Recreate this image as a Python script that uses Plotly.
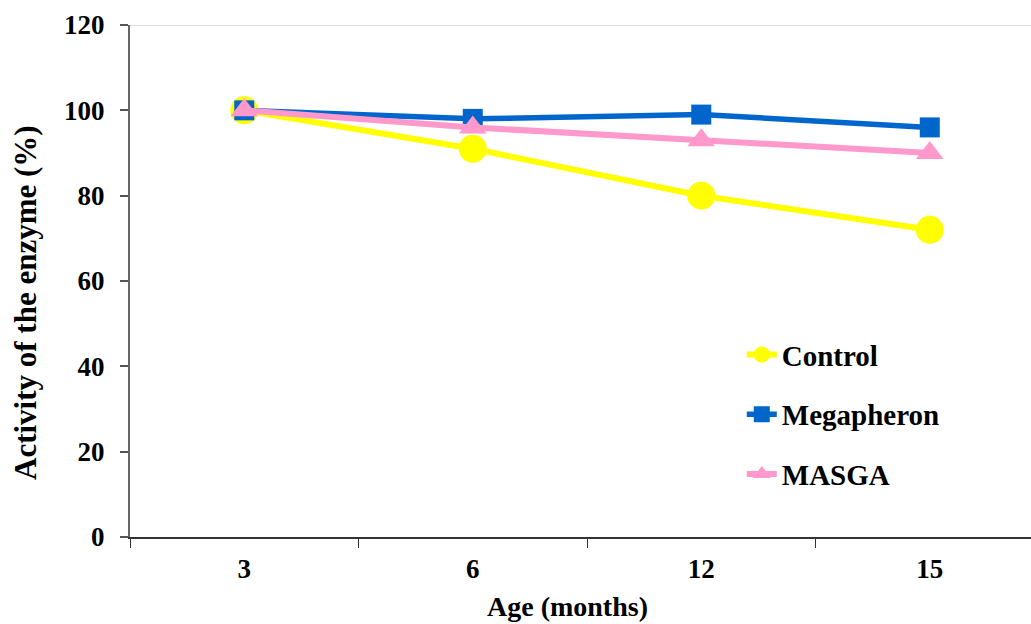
import plotly.graph_objects as go

ages = ["3", "6", "12", "15"]
control = [100, 91, 80, 72]
megapheron = [100, 98, 99, 96]
masga = [100, 96, 93, 90]
y_ticks = [0, 20, 40, 60, 80, 100, 120]

FONT = "Liberation Serif, Times New Roman, serif"

fig = go.Figure()
fig.add_trace(go.Scatter(x=ages, y=control, name="Control", mode="lines+markers",
                         line=dict(color="#FFFF00", width=6),
                         marker=dict(symbol="circle", size=28, color="#FFFF00"),
                         legendgroup="a"))
fig.add_trace(go.Scatter(x=ages, y=megapheron, name="Megapheron", mode="lines+markers",
                         line=dict(color="#0066CC", width=5.5),
                         marker=dict(symbol="square", size=20, color="#0066CC"),
                         legendgroup="b"))
fig.add_trace(go.Scatter(x=ages, y=masga, name="MASGA", mode="lines+markers",
                         line=dict(color="#FF99CC", width=6),
                         marker=dict(symbol="triangle-up", size=24, color="#FF99CC"),
                         legendgroup="c"))

fig.add_shape(type="line", xref="paper", yref="y", x0=0, x1=1, y0=120, y1=120,
              line=dict(color="#C0C0C0", width=1), layer="below")

fig.update_layout(
    width=1031, height=624,
    margin=dict(l=130, r=0, t=25, b=87),
    paper_bgcolor="white", plot_bgcolor="white",
    font=dict(family=FONT, color="black", size=24),
    showlegend=True,
    legend=dict(x=0.679, y=0.406, xanchor="left", yanchor="top",
                font=dict(family=FONT, size=29, color="black", weight="bold"),
                tracegroupgap=19, bgcolor="rgba(0,0,0,0)", itemwidth=30),
    xaxis=dict(type="category", range=[-0.5, 3.443], tickson="boundaries",
               ticks="outside", ticklen=9, tickcolor="#333333", tickwidth=1,
               showline=True, linecolor="#333333", linewidth=1.5,
               showgrid=False, zeroline=False, ticklabelstandoff=7,
               tickfont=dict(family=FONT, size=27, color="black", weight="bold")),
    yaxis=dict(range=[0, 120], tickvals=y_ticks,
               ticks="outside", ticklen=8, tickcolor="#555555", tickwidth=1.5,
               showline=True, linecolor="#666666", linewidth=2,
               showgrid=False, zeroline=False, ticklabelstandoff=10,
               tickfont=dict(family=FONT, size=27, color="black", weight="bold")),
    annotations=[
        dict(text="<b>Age (months)</b>", xref="paper", yref="paper",
             x=(567 - 130) / 901, y=-(624 - 537) / 512, xanchor="center", yanchor="bottom",
             showarrow=False, font=dict(family=FONT, size=28, color="black")),
        dict(text="<b>Activity of the enzyme (%)</b>", xref="paper", yref="paper",
             x=-(130 - 25) / 901, y=(537 - 303) / 512, xanchor="center", yanchor="middle",
             textangle=-90, showarrow=False, font=dict(family=FONT, size=31, color="black")),
    ],
)

fig.write_html("out.html", config={"displayModeBar": False},
               post_script="document.body.style.margin='0';document.body.style.overflow='hidden';")
